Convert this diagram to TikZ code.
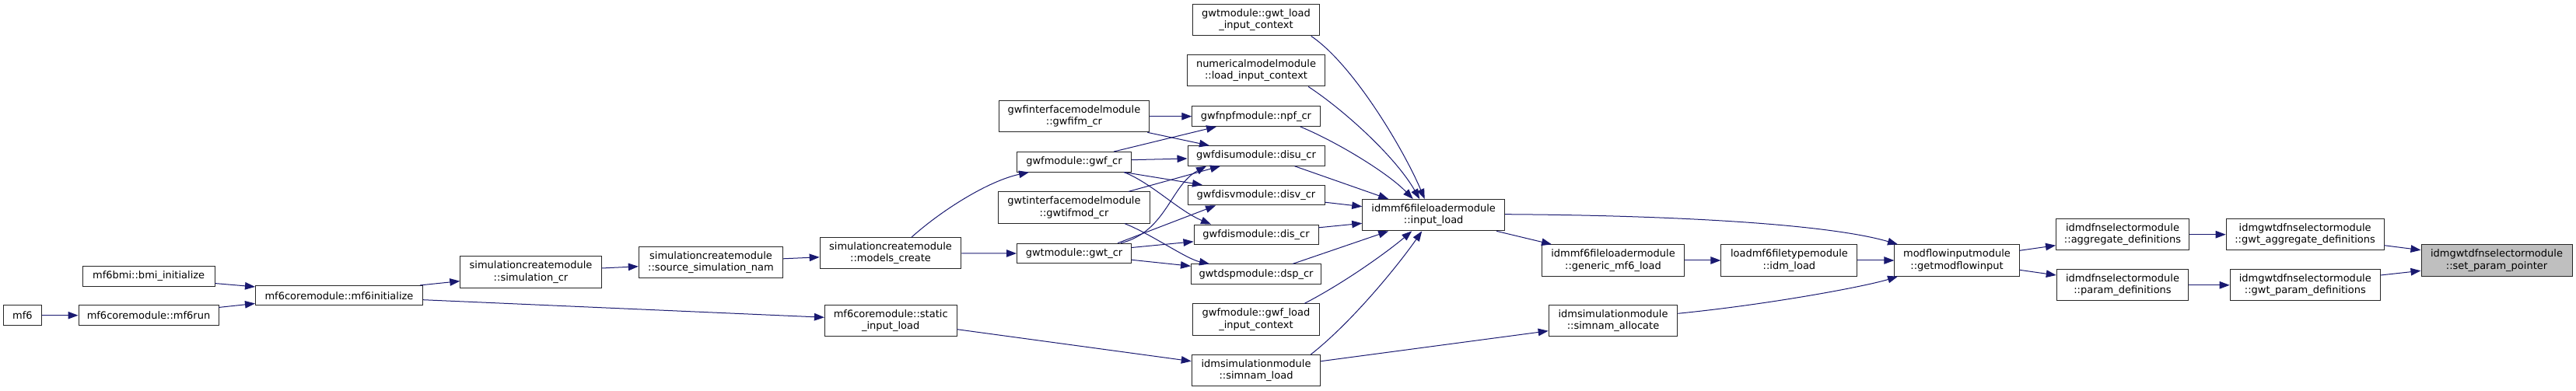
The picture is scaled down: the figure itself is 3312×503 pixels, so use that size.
\documentclass[tikz,border=0pt]{standalone}
\usepackage{fontspec}
\setmainfont{DejaVu Sans}
\usetikzlibrary{arrows.meta}
\definecolor{edgeblue}{HTML}{191970}
\definecolor{curfill}{HTML}{BFBFBF}
\begin{document}
\begin{tikzpicture}[x=1pt, y=1pt,
    fn/.style={draw=black!85, line width=1pt, fill=white, align=center, inner sep=0pt,
        font=\fontsize{13}{15.2}\selectfont, minimum height=25.5pt},
    fn2/.style={fn, minimum height=40.3pt},
    call/.style={draw=edgeblue, line width=1pt, -{Triangle[length=13pt,width=9.5pt]}}]
    \useasboundingbox (0,0) rectangle (3312,503);
    % callers on the left
    \node[fn, minimum width=49pt] (mf6) at (29,97.3) {mf6};
    \node[fn, minimum width=180pt] (mf6run) at (191,97.3) {mf6coremodule::mf6run};
    \node[fn, minimum width=169.6pt] (bmi) at (191.2,147.7) {mf6bmi::bmi\_initialize};
    \node[fn, minimum width=215pt] (mf6init) at (436,122.8) {mf6coremodule::mf6initialize};
    \node[fn2, minimum width=181.4pt] (simcr) at (682.5,153) {simulationcreatemodule\\::simulation\_cr};
    \node[fn2, minimum width=185.4pt] (srcnam) at (914,165.2) {simulationcreatemodule\\::source\_simulation\_nam};
    \node[fn2, minimum width=181.7pt] (modcreate) at (1145,177.2) {simulationcreatemodule\\::models\_create};
    \node[fn2, minimum width=169.6pt] (staticload) at (1145.2,90.3) {mf6coremodule::static\\\_input\_load};
    % model create routines
    \node[fn2, minimum width=193.6pt] (gwfifm) at (1381,353.3) {gwfinterfacemodelmodule\\::gwfifm\_cr};
    \node[fn, minimum width=147pt] (gwfcr) at (1381,294.7) {gwfmodule::gwf\_cr};
    \node[fn2, minimum width=195pt] (gwtifmod) at (1381,236) {gwtinterfacemodelmodule\\::gwtifmod\_cr};
    \node[fn, minimum width=147pt] (gwtcr) at (1381,177) {gwtmodule::gwt\_cr};
    % package create routines
    \node[fn2, minimum width=162.4pt] (gwtlic) at (1615,477.2) {gwtmodule::gwt\_load\\\_input\_context};
    \node[fn2, minimum width=177.3pt] (numlic) at (1615,412.2) {numericalmodelmodule\\::load\_input\_context};
    \node[fn, minimum width=164.4pt] (npfcr) at (1615,353.3) {gwfnpfmodule::npf\_cr};
    \node[fn, minimum width=176pt] (disucr) at (1615,302.5) {gwfdisumodule::disu\_cr};
    \node[fn, minimum width=176pt] (disvcr) at (1615,251.8) {gwfdisvmodule::disv\_cr};
    \node[fn, minimum width=160pt] (discr) at (1615,201.2) {gwfdismodule::dis\_cr};
    \node[fn, minimum width=167pt] (dspcr) at (1615,150.3) {gwtdspmodule::dsp\_cr};
    \node[fn2, minimum width=162.4pt] (gwflic) at (1615,92) {gwfmodule::gwf\_load\\\_input\_context};
    \node[fn2, minimum width=165.5pt] (simload) at (1615,26.3) {idmsimulationmodule\\::simnam\_load};
    % input data model
    \node[fn2, minimum width=183pt] (inload) at (1843.2,226.3) {idmmf6fileloadermodule\\::input\_load};
    \node[fn2, minimum width=182.6pt] (generic) at (2074,168) {idmmf6fileloadermodule\\::generic\_mf6\_load};
    \node[fn2, minimum width=165.7pt] (simalloc) at (2074,90.3) {idmsimulationmodule\\::simnam\_allocate};
    \node[fn2, minimum width=175pt] (idmload) at (2300.4,168) {loadmf6filetypemodule\\::idm\_load};
    \node[fn2, minimum width=160.3pt] (getmfi) at (2516,168) {modflowinputmodule\\::getmodflowinput};
    \node[fn2, minimum width=171pt] (aggdef) at (2729,201.3) {idmdfnselectormodule\\::aggregate\_definitions};
    \node[fn2, minimum width=169.5pt] (pardef) at (2729,136.2) {idmdfnselectormodule\\::param\_definitions};
    \node[fn2, minimum width=202.8pt] (gwtagg) at (2963.6,201.3) {idmgwtdfnselectormodule\\::gwt\_aggregate\_definitions};
    \node[fn2, minimum width=193.2pt] (gwtpar) at (2963.8,136.2) {idmgwtdfnselectormodule\\::gwt\_param\_definitions};
    \node[fn2, fill=curfill, minimum width=194pt] (setptr) at (3210,168) {idmgwtdfnselectormodule\\::set\_param\_pointer};
    % calls, left part
    \draw[call] (mf6.east) -- (mf6run.west);
    \draw[call] ([yshift=-3]mf6run.north east) -- ([yshift=3]mf6init.south west);
    \draw[call] ([yshift=4]bmi.south east) -- ([yshift=-2]mf6init.north west);
    \draw[call] ([xshift=-4]mf6init.north east) -- ([yshift=9]simcr.south west);
    \draw[call] ([yshift=-5.5]mf6init.east) -- ([yshift=4.4]staticload.west);
    \draw[call] ([yshift=5]simcr.east) -- ([yshift=-5]srcnam.west);
    \draw[call] ([yshift=5]srcnam.east) -- ([yshift=-5]modcreate.west);
    \draw[call] ([xshift=27]modcreate.north) .. controls (1210,232) and (1270,270) .. ([xshift=-58]gwfcr.south);
    \draw[call] (modcreate.east) -- (gwtcr.west);
    \draw[call] ([yshift=-11]staticload.east) -- ([yshift=12]simload.west);
    % calls into the create routines
    \draw[call] (gwfifm.east) -- (npfcr.west);
    \draw[call] ([xshift=-3]gwfifm.south east) -- ([xshift=-60]disucr.north);
    \draw[call] ([xshift=51]gwfcr.north) -- ([xshift=-51]npfcr.south);
    \draw[call] ([yshift=2.6]gwfcr.east) -- ([yshift=-3.5]disucr.west);
    \draw[call] ([xshift=-10]gwfcr.south east) -- ([xshift=-69]disvcr.north);
    \draw[call] ([xshift=-10]gwfcr.south east) .. controls (1480,268) and (1515,232) .. ([xshift=-58]discr.north);
    \draw[call] ([xshift=70]gwtifmod.north) -- ([xshift=-46]disucr.south);
    \draw[call] ([xshift=65]gwtifmod.south) .. controls (1480,202) and (1525,170) .. ([xshift=-60]dspcr.north);
    \draw[call] ([xshift=60]gwtcr.north) .. controls (1500,205) and (1505,265) .. ([xshift=-64]disucr.south);
    \draw[call] ([xshift=56]gwtcr.north) -- ([xshift=-52]disvcr.south);
    \draw[call] ([yshift=7.5]gwtcr.east) -- ([yshift=-9]discr.west);
    \draw[call] ([yshift=-8.3]gwtcr.east) -- ([yshift=10.4]dspcr.west);
    % calls into input_load
    \draw[call] ([xshift=-11]gwtlic.south east) .. controls (1740,420) and (1805,310) .. ([xshift=-11.5]inload.north);
    \draw[call] ([xshift=-22]numlic.south east) .. controls (1730,360) and (1795,300) .. ([xshift=-18]inload.north);
    \draw[call] ([xshift=-26]npfcr.south east) .. controls (1720,320) and (1785,280) .. ([xshift=-26.5]inload.north);
    \draw[call] ([xshift=-39]disucr.south east) -- ([xshift=-58]inload.north);
    \draw[call] ([yshift=-9]disvcr.east) -- ([yshift=11]inload.west);
    \draw[call] ([yshift=9]discr.east) -- ([yshift=-10.6]inload.west);
    \draw[call] ([xshift=-37]dspcr.north east) -- ([xshift=-58]inload.south);
    \draw[call] ([xshift=-19.5]gwflic.north east) .. controls (1730,140) and (1785,180) .. ([xshift=-28]inload.south);
    \draw[call] ([xshift=-13]simload.north east) .. controls (1740,90) and (1800,165) .. ([xshift=-15]inload.south);
    \draw[call] ([yshift=12]simload.east) -- ([yshift=-13]simalloc.west);
    % right part
    \draw[call] ([xshift=-11]inload.south east) -- ([xshift=-79]generic.north);
    \draw[call] ([yshift=1]inload.east) .. controls (2150,226) and (2350,215) .. ([xshift=-76]getmfi.north);
    \draw[call] (generic.east) -- (idmload.west);
    \draw[call] (idmload.east) -- (getmfi.west);
    \draw[call] ([yshift=9.4]simalloc.east) .. controls (2280,112) and (2400,135) .. ([xshift=-76]getmfi.south);
    \draw[call] ([yshift=12.7]getmfi.east) -- ([yshift=-14]aggdef.west);
    \draw[call] ([yshift=-12.3]getmfi.east) -- ([yshift=12.8]pardef.west);
    \draw[call] (aggdef.east) -- (gwtagg.west);
    \draw[call] (pardef.east) -- (gwtpar.west);
    \draw[call] ([yshift=-14]gwtagg.east) -- ([yshift=13.3]setptr.west);
    \draw[call] ([yshift=12.8]gwtpar.east) -- ([yshift=-13.3]setptr.west);
\end{tikzpicture}
\end{document}
